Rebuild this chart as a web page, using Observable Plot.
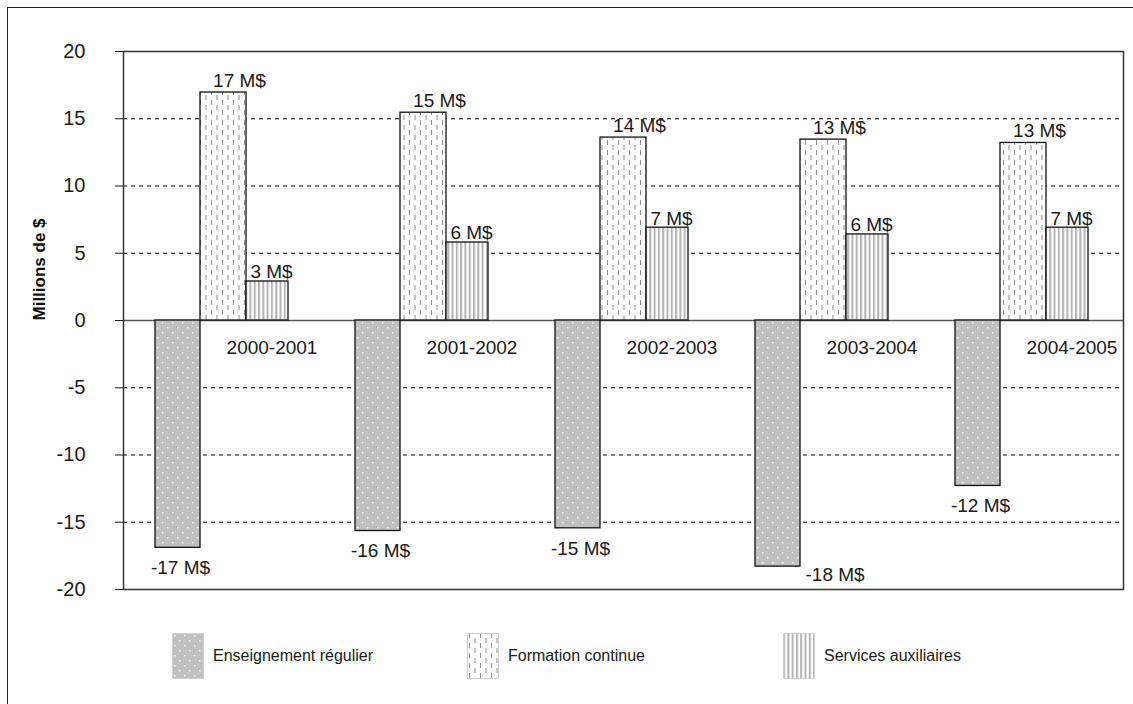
<!DOCTYPE html>
<html><head><meta charset="utf-8">
<script src="https://cdn.jsdelivr.net/npm/d3@7"></script>
<script src="https://cdn.jsdelivr.net/npm/@observablehq/plot@0.6"></script>
<style>
html,body{margin:0;padding:0;background:#fff;overflow:hidden;width:1133px;height:704px;}
#frame{position:absolute;left:7px;top:7px;width:1140px;height:720px;border:1.5px solid #222;box-sizing:border-box;}
#chart{position:absolute;left:0;top:0;}
#legend{position:absolute;left:0;top:633px;width:1133px;height:46px;font-family:"Liberation Sans",Arial,sans-serif;font-size:16px;color:#1a1a1a;}
.item{position:absolute;top:0;height:46px;display:flex;align-items:center;white-space:nowrap;}
.item svg{margin-right:9px;display:block;}
#defs{position:absolute;width:0;height:0;}
</style></head><body>
<svg id="defs" width="0" height="0">
<defs>
<pattern id="p-ens" width="10" height="10" patternUnits="userSpaceOnUse">
<rect width="10" height="10" fill="#c0c0c0"/>
<rect x="2" y="2" width="1.4" height="1.4" fill="#ffffff"/>
<rect x="7" y="7" width="1.4" height="1.4" fill="#ffffff"/>
</pattern>
<pattern id="p-form" width="11" height="10" patternUnits="userSpaceOnUse">
<rect width="11" height="10" fill="#fff"/>
<line x1="2.5" y1="0" x2="2.5" y2="5" stroke="#8f8f8f" stroke-width="1"/>
<line x1="8" y1="5" x2="8" y2="10" stroke="#8f8f8f" stroke-width="1"/>
</pattern>
<pattern id="p-serv" width="4.3" height="10" patternUnits="userSpaceOnUse">
<rect width="4.3" height="10" fill="#fff"/>
<rect x="0" y="0" width="2" height="10" fill="#b4b4b4"/>
</pattern>
</defs>
</svg>
<div id="frame"></div>
<div id="chart"></div>
<div id="legend"></div>
<script>
const years = ["2000-2001","2001-2002","2002-2003","2003-2004","2004-2005"];
const seriesNames = ["Enseignement régulier","Formation continue","Services auxiliaires"];
const enseignement = [-16.9,-15.65,-15.45,-18.3,-12.3];
const formation = [16.95,15.45,13.6,13.45,13.2];
const services = [2.9,5.8,6.9,6.4,6.9];
const yTicks = [-20,-15,-10,-5,0,5,10,15,20];
const gridTicks = [-15,-10,-5,5,10,15];
const unit = " M$";

const fills = ["url(#p-ens)","url(#p-form)","url(#p-serv)"];
const rows = (vals) => years.map((y,i)=>({year:y, v:vals[i]}));
const ensRows = rows(enseignement), formRows = rows(formation), servRows = rows(services);
const lbl = d => `${Math.round(d.v)}${unit}`;
const font = "Liberation Sans, Arial, sans-serif";
// labels that would run into the bottom of the frame are placed beside the bar
const nearBottom = d => d.v < -17.5;

const plot = Plot.plot({
  width:1133, height:600,
  marginLeft:123, marginRight:10, marginTop:51, marginBottom:11,
  style:{fontFamily:font, fontSize:"20px", color:"#1a1a1a", background:"transparent", overflow:"visible"},
  x:{domain:years, padding:0, axis:null},
  y:{domain:[-20,20], ticks:yTicks, tickSize:8, tickPadding:30, tickFormat:d=>String(d), label:null},
  marks:[
    Plot.ruleY(gridTicks,{stroke:"#000", strokeDasharray:"4,4", strokeWidth:1}),
    Plot.ruleY([0],{stroke:"#555", strokeWidth:1.5}),
    Plot.barY(ensRows,{x:"year", y:"v", fill:fills[0], stroke:"#111", strokeWidth:1.3, insetLeft:32, insetRight:123}),
    Plot.barY(formRows,{x:"year", y:"v", fill:fills[1], stroke:"#111", strokeWidth:1.3, insetLeft:77, insetRight:77}),
    Plot.barY(servRows,{x:"year", y:"v", fill:fills[2], stroke:"#111", strokeWidth:1.3, insetLeft:123, insetRight:35}),
    Plot.frame({stroke:"#333", strokeWidth:1.5}),
    Plot.text(formRows,{x:"year", y:"v", text:lbl, dx:16, dy:-6, lineAnchor:"bottom", fontSize:19, fill:"#1a1a1a"}),
    Plot.text(servRows,{x:"year", y:"v", text:lbl, dx:48, dy:-3, lineAnchor:"bottom", fontSize:19, fill:"#1a1a1a"}),
    Plot.text(ensRows.filter(d=>!nearBottom(d)),{x:"year", y:"v", text:lbl, dx:-43, dy:13, lineAnchor:"top", fontSize:19, fill:"#1a1a1a"}),
    Plot.text(ensRows.filter(nearBottom),{x:"year", y:"v", text:lbl, dx:-18, dy:8, textAnchor:"start", lineAnchor:"middle", fontSize:19, fill:"#1a1a1a"}),
    Plot.text(years,{x:d=>d, y:()=>0, text:d=>d, dx:48.5, dy:27, lineAnchor:"middle", fontSize:19, fill:"#1a1a1a"}),
    Plot.text(["Millions de $"],{frameAnchor:"left", dx:-84, rotate:-90, text:d=>d, fontWeight:"bold", fontSize:17, fill:"#111"})
  ]
});
document.getElementById("chart").appendChild(plot);

const legendX = [172, 467, 783];
const legend = document.getElementById("legend");
seriesNames.forEach((name,i)=>{
  const item = document.createElement("div");
  item.className = "item";
  item.style.left = legendX[i] + "px";
  item.innerHTML = `<svg width="32" height="46"><rect x="0.5" y="0.5" width="31" height="45" fill="${fills[i]}" stroke="#d0d0d0" stroke-width="1"/></svg><span>${name}</span>`;
  legend.appendChild(item);
});
</script>
</body></html>
